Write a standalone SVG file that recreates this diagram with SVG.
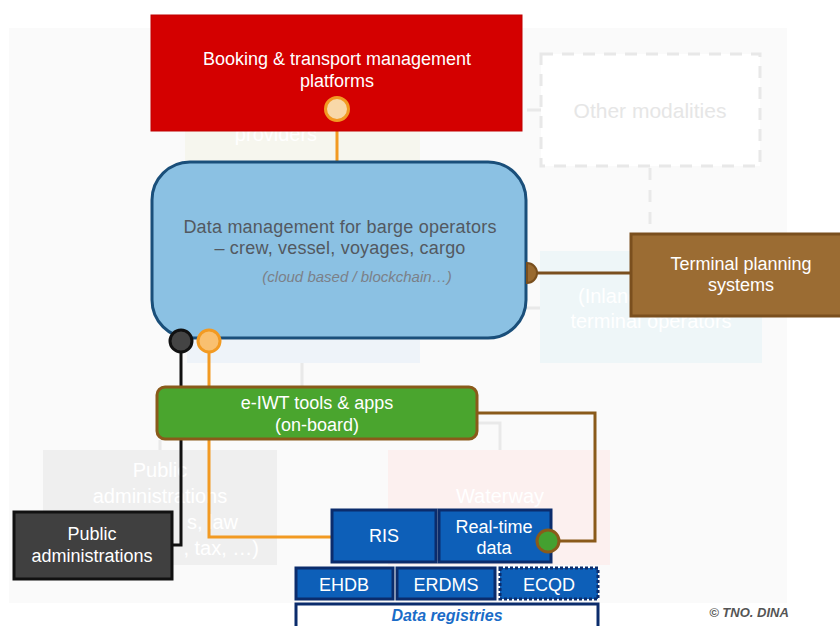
<svg xmlns="http://www.w3.org/2000/svg" width="840" height="626" viewBox="0 0 840 626">
  <style>
    text { font-family: "Liberation Sans", Arial, sans-serif; text-anchor: middle; }
    .ghost-txt { fill: #ffffff; font-size: 20px; }
    .lbl { fill: #ffffff; font-size: 18px; }
    .ris { fill: #0d5fb8; stroke: #0b2c6c; stroke-width: 3; }
    .ghost-line { fill: none; stroke: #e9e9e9; stroke-width: 3; }
  </style>

  <!-- white page -->
  <rect x="0" y="0" width="840" height="626" fill="#ffffff"/>

  <!-- faded background layer -->
  <g id="background">
    <rect x="9" y="28" width="778" height="575" fill="#fafafa"/>
    <rect x="185" y="131" width="235" height="32" fill="#f6f6ee"/>
    <text class="ghost-txt" x="276" y="141">providers</text>

    <rect x="541" y="54" width="219" height="112" fill="#ffffff" stroke="#e8e8e8" stroke-width="3" stroke-dasharray="12,9"/>
    <text x="650" y="118" fill="#e6e6e6" font-size="21">Other modalities</text>
    <path class="ghost-line" d="M527,110 H541"/>
    <path class="ghost-line" d="M650,168 V226" stroke-dasharray="12,10"/>

    <rect x="540" y="251" width="222" height="112" fill="#eef6f8"/>
    <text class="ghost-txt" x="578" y="303" style="text-anchor:start">(Inland)</text>
    <text class="ghost-txt" x="651" y="328">terminal operators</text>
    <path class="ghost-line" d="M527,308 H540"/>

    <rect x="187" y="340" width="233" height="23" fill="#eef3f9"/>
    <path class="ghost-line" d="M302,363 V386"/>

    <rect x="43" y="450" width="234" height="115" fill="#efefef"/>
    <text class="ghost-txt" x="160" y="477" font-size="21">Public</text>
    <text class="ghost-txt" x="160" y="503" font-size="21">administrations</text>
    <text class="ghost-txt" x="238" y="529" font-size="21" style="text-anchor:end">s, law</text>
    <text class="ghost-txt" x="259" y="555" font-size="21" style="text-anchor:end">, tax, …)</text>
    <path class="ghost-line" d="M160,440 V450"/>

    <rect x="388" y="450" width="222" height="115" fill="#fcf0ef"/>
    <text class="ghost-txt" x="500" y="503">Waterway</text>
    <path class="ghost-line" d="M478,423 H500 V450"/>
  </g>

  <!-- connectors -->
  <g id="connectors" fill="none" stroke-width="3">
    <path d="M337,121 V162" stroke="#f29a22"/>
    <path d="M537,273 H631" stroke="#7a4f1e"/>
    <path d="M181,352 V545 H172" stroke="#111111"/>
    <path d="M209,352 V537 H331" stroke="#f29a22"/>
    <path d="M477,413 H595 V541 H559" stroke="#8a5a1a"/>
  </g>

  <g id="booking">
    <rect x="151" y="15" width="371" height="116" fill="#d40000" stroke="#c00000" stroke-width="1"/>
    <text class="lbl" x="337" y="65">Booking &amp; transport management</text>
    <text class="lbl" x="337" y="87">platforms</text>
    <circle cx="337" cy="109" r="11.5" fill="#f8d8a8" stroke="#f29a22" stroke-width="3"/>
  </g>

  <g id="data-management">
    <rect x="152" y="162" width="374" height="176" rx="38" fill="#8bc1e3" stroke="#1a4f7a" stroke-width="3"/>
    <text x="340" y="233" fill="#535961" font-size="18" letter-spacing="0.2">Data management for barge operators</text>
    <text x="340" y="254" fill="#535961" font-size="18" letter-spacing="0.2">– crew, vessel, voyages, cargo</text>
    <text x="357" y="282" fill="#7b8088" font-size="15" font-style="italic">(cloud based / blockchain…)</text>
    <path d="M527,263 A10,10 0 0 1 527,283 Z" fill="#9a6a30" stroke="#7a4f1e" stroke-width="2"/>
    <circle cx="181" cy="341" r="11" fill="#444444" stroke="#111111" stroke-width="3"/>
    <circle cx="209" cy="341" r="11" fill="#f9c070" stroke="#f29a22" stroke-width="3"/>
  </g>

  <g id="terminal">
    <rect x="631" y="234" width="215" height="82" fill="#9b6c33" stroke="#7a4f1e" stroke-width="3"/>
    <text class="lbl" x="741" y="270">Terminal planning</text>
    <text class="lbl" x="741" y="291">systems</text>
  </g>

  <g id="eiwt">
    <rect x="157" y="387" width="320" height="52" rx="8" fill="#4aa52e" stroke="#8a5a1a" stroke-width="3"/>
    <text class="lbl" x="317" y="409">e-IWT tools &amp; apps</text>
    <text class="lbl" x="317" y="431">(on-board)</text>
  </g>

  <g id="public-admin">
    <rect x="14" y="512" width="158" height="67" fill="#404040" stroke="#111111" stroke-width="3"/>
    <text class="lbl" x="92" y="540">Public</text>
    <text class="lbl" x="92" y="562">administrations</text>
  </g>

  <g id="ris">
    <rect class="ris" x="332" y="510" width="104" height="52"/>
    <text class="lbl" x="384" y="542" font-size="19">RIS</text>
  </g>

  <g id="realtime">
    <rect class="ris" x="439" y="510" width="112" height="52"/>
    <text class="lbl" x="494" y="533">Real-time</text>
    <text class="lbl" x="494" y="554">data</text>
    <circle cx="548" cy="541" r="11" fill="#44a030" stroke="#8a5a1a" stroke-width="3"/>
  </g>

  <g id="ehdb">
    <rect class="ris" x="296" y="568" width="97" height="31"/>
    <text class="lbl" x="344" y="591">EHDB</text>
  </g>
  <g id="erdms">
    <rect class="ris" x="397" y="568" width="98" height="31"/>
    <text class="lbl" x="446" y="591">ERDMS</text>
  </g>
  <g id="ecqd">
    <rect class="ris" x="500" y="568" width="98" height="31" stroke-dasharray="3,2"/>
    <text class="lbl" x="549" y="591">ECQD</text>
  </g>

  <g id="registries">
    <rect x="296" y="604" width="302" height="30" fill="#ffffff" stroke="#0b2c6c" stroke-width="3"/>
    <text x="447" y="621" fill="#1a6cc8" font-size="16" font-weight="bold" font-style="italic">Data  registries</text>
  </g>

  <text x="749" y="617" fill="#555555" font-size="13" font-weight="bold" font-style="italic">© TNO. DINA</text>
</svg>
